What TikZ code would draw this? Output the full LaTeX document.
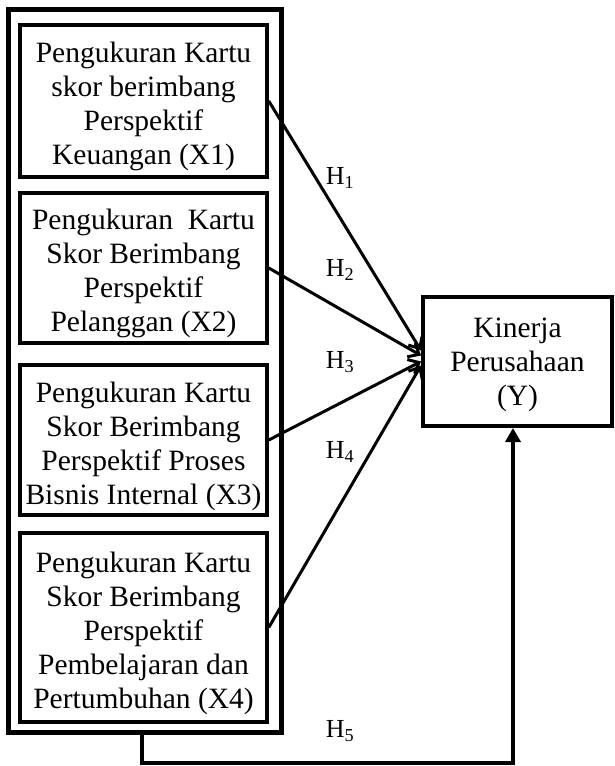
\documentclass[tikz,border=0pt]{standalone}
\usepackage{fontspec}
\setmainfont{Liberation Serif}
\usetikzlibrary{arrows.meta,calc}
\begin{document}
\begin{tikzpicture}[x=1pt,y=-1pt,
  boxfont/.style={font=\fontsize{29.5}{34}\selectfont},
  inbox/.style={draw,line width=3.5pt,minimum width=247pt,minimum height=#1,inner sep=0pt},
  boxtext/.style={align=center,inner sep=0pt,boxfont},
  hlabel/.style={font=\fontsize{26}{30}\selectfont,inner sep=0pt},
  harrow/.style={line width=3pt,-{Straight Barb[length=9pt,width=16pt]}}]
\useasboundingbox (0,0) rectangle (614,766);
\node[draw,line width=5pt,minimum width=273pt,minimum height=723pt,inner sep=0pt] (outer) at (144.5,370.5) {};
\node[inbox=152pt] (b1) at (143.5,101) {};
\node[inbox=150pt] (b2) at (143.5,268) {};
\node[inbox=150pt] (b3) at (143.5,440) {};
\node[inbox=189pt] (b4) at (143.5,627.5) {};
\node[boxtext] (t1) at ($(b1)+(0,5)$) {Pengukuran Kartu\\skor berimbang\\Perspektif\\Keuangan (X1)};
\node[boxtext] (t2) at ($(b2)+(0,5)$) {Pengukuran\ \ Kartu\\Skor Berimbang\\Perspektif\\Pelanggan (X2)};
\node[boxtext] (t3) at ($(b3)+(0,6)$) {Pengukuran Kartu\\Skor Berimbang\\Perspektif Proses\\Bisnis Internal (X3)};
\node[boxtext] (t4) at ($(b4)+(0,6)$) {Pengukuran Kartu\\Skor Berimbang\\Perspektif\\Pembelajaran dan\\Pertumbuhan (X4)};
\node[draw,line width=4pt,minimum width=189pt,minimum height=129pt,inner sep=0pt] (Y) at (517.5,361.5) {};
\node[boxtext] (ty) at ($(Y)+(0,3)$) {Kinerja\\Perusahaan\\(Y)};
\draw[harrow] (b1.east) -- ($(Y.west)+(0,-11)$);
\draw[harrow] (b2.east) -- ($(Y.west)+(0,-6)$);
\draw[harrow] (b3.east) -- ($(Y.west)+(0,0)$);
\draw[harrow] (b4.east) -- ($(Y.west)+(0,4)$);
\node[hlabel] (h1) at (340,178) {H\textsubscript{1}};
\node[hlabel] (h2) at (340,270) {H\textsubscript{2}};
\node[hlabel] (h3) at (340,362) {H\textsubscript{3}};
\node[hlabel] (h4) at (340,452) {H\textsubscript{4}};
\node[hlabel] (h5) at (340,731) {H\textsubscript{5}};
\coordinate (c1) at (142,763);
\coordinate (c2) at (513,763);
\draw[line width=4pt,-{Triangle[length=14pt,width=15pt]}] (c1 |- outer.south) -- (c1) -- (c2) -- (c2 |- Y.south);
\end{tikzpicture}
\end{document}
